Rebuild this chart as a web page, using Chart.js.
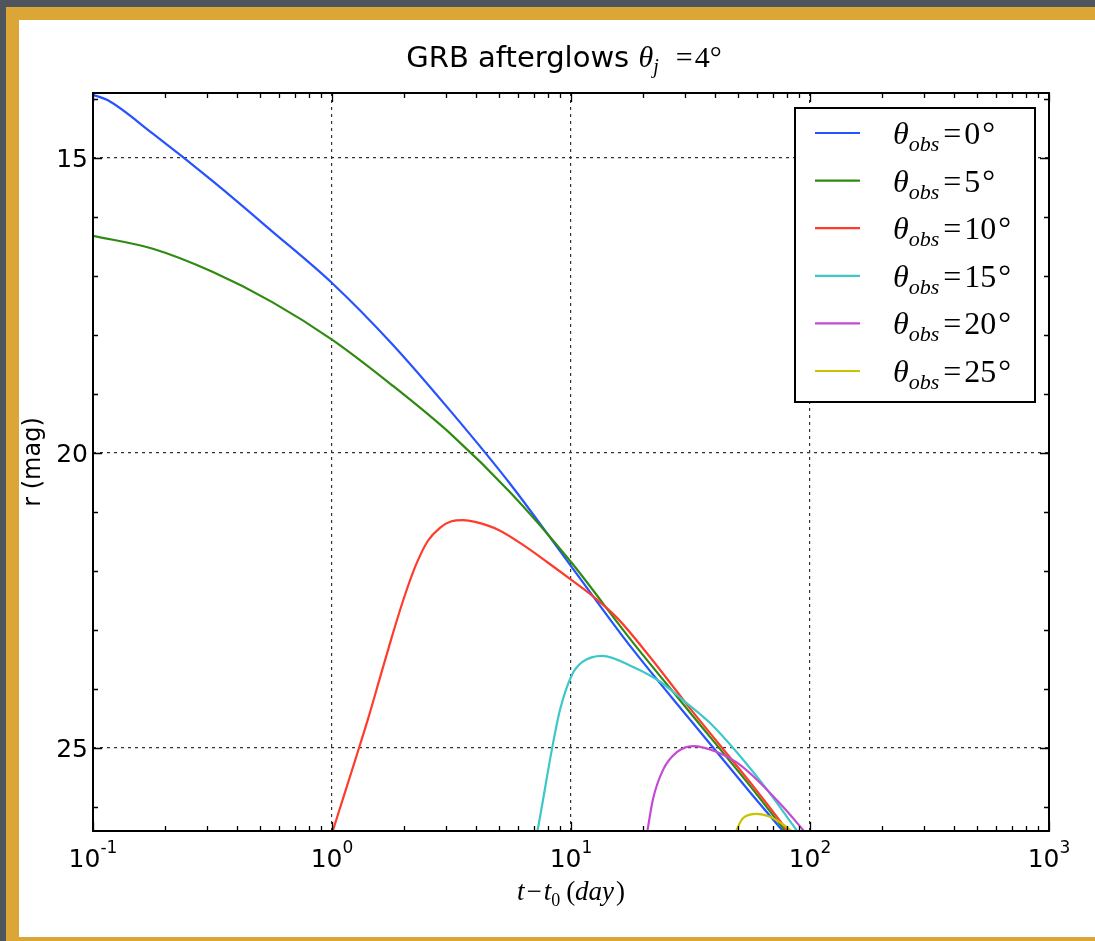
<!DOCTYPE html>
<html>
<head>
<meta charset="utf-8">
<script src="https://cdn.jsdelivr.net/npm/chart.js@4.4.1/dist/chart.umd.min.js"></script>
<style>
  body { margin: 0; width: 1095px; height: 941px; overflow: hidden; background: #4f555c; }
  #gold { position: absolute; left: 6px; top: 7px; width: 1089px; height: 934px; background: #dba635; }
  #paper { position: absolute; left: 19px; top: 20px; width: 1076px; height: 917px; background: #fff; }
  canvas { display: block; }
</style>
</head>
<body>
<div id="gold"></div>
<div id="paper"><canvas id="myChart" width="1076" height="917"></canvas></div>
<script>
// observer angles (deg), jet angle 4 deg
const obsAngles = [0, 5, 10, 15, 20, 25]
const colors = ['#2652ff', '#2f8a10', '#ff3b2b', '#3cc8c8', '#c44ad6', '#c8c400']

// t - t0 (day) and r (mag) for each curve
const t0 = [0.1, 0.115, 0.178, 0.316, 0.56, 1, 1.78, 3.16, 5.6, 10, 17.8, 31.6, 56, 80]
const r0 = [13.93, 14.02, 14.59, 15.39, 16.24, 17.12, 18.15, 19.31, 20.54, 21.92, 23.29, 24.53, 25.75, 26.49]

const t5 = [0.1, 0.178, 0.316, 0.56, 1, 1.78, 3.16, 5.6, 10, 17.8, 31.6, 56, 82]
const r5 = [16.32, 16.54, 16.93, 17.44, 18.08, 18.85, 19.69, 20.68, 21.85, 23.17, 24.41, 25.64, 26.5]

const t10 = [1.0, 1.122, 1.259, 1.415, 1.588, 1.78, 2.0, 2.245, 2.52, 2.83, 3.16, 3.53, 3.97, 5.0, 6.3, 7.94, 10, 12.6, 15.7, 21.4, 31.6, 56, 84]
const r10 = [26.45, 25.81, 25.17, 24.51, 23.81, 23.12, 22.46, 21.9, 21.49, 21.27, 21.16, 21.14, 21.17, 21.31, 21.56, 21.85, 22.15, 22.46, 22.81, 23.46, 24.34, 25.58, 26.5]

const t15 = [7.21, 7.64, 8.17, 8.99, 10.1, 11.2, 13.5, 18.2, 23.6, 29.4, 38.2, 49.5, 66.1, 89.1]
const r15 = [26.45, 25.88, 25.2, 24.36, 23.76, 23.54, 23.44, 23.63, 23.88, 24.19, 24.58, 25.08, 25.71, 26.43]

const t20 = [20.8, 22.0, 24.3, 27.8, 32.4, 40.8, 49.5, 60.0, 77.1, 95.3]
const r20 = [26.45, 25.88, 25.37, 25.07, 24.97, 25.07, 25.25, 25.54, 26.0, 26.43]

const t25 = [48.5, 52.5, 60.0, 68.0, 77.1, 84.9]
const r25 = [26.45, 26.19, 26.12, 26.17, 26.3, 26.43]

const times = [t0, t5, t10, t15, t20, t25]
const mags = [r0, r5, r10, r15, r20, r25]

// axes
const xMin = 0.1, xMax = 1000
const yMin = 13.9, yMax = 26.41
const xExps = [-1, 0, 1, 2, 3]
const yTicks = [14, 15, 16, 17, 18, 19, 20, 21, 22, 23, 24, 25, 26]
const yMajor = [15, 20, 25]

let xTicks = []
for (let d = -1; d < 3; d++) {
  for (let k = 1; k < 10; k++) xTicks.push(k * Math.pow(10, d))
}
xTicks.push(1000)

const isPow10 = v => Math.abs(Math.log10(v) - Math.round(Math.log10(v))) < 1e-6

const sans = '"DejaVu Sans"'
const serif = '"Liberation Serif"'

// draw a row of text pieces (for sub/superscripts)
const richWidth = (ctx, parts) => {
  let w = 0
  parts.forEach(p => { ctx.font = p.font; w += ctx.measureText(p.text).width + (p.gap || 0) })
  return w
}
const drawRich = (ctx, parts, x, y, align) => {
  let w = richWidth(ctx, parts)
  let cx = align === 'center' ? x - w / 2 : (align === 'right' ? x - w : x)
  parts.forEach(p => {
    ctx.font = p.font
    ctx.fillText(p.text, cx, y + (p.dy || 0))
    cx += ctx.measureText(p.text).width + (p.gap || 0)
  })
}

const decorations = {
  id: 'decorations',
  afterDatasetsDraw(chart) {
    const {ctx, chartArea: a, scales: {x, y}} = chart
    ctx.save()
    ctx.strokeStyle = '#000'
    ctx.lineWidth = 1.3
    ctx.beginPath()
    x.ticks.forEach(t => {
      const px = Math.round(x.getPixelForValue(t.value)) + 0.5
      const len = isPow10(t.value) ? 9 : 5
      ctx.moveTo(px, a.bottom); ctx.lineTo(px, a.bottom - len)
      ctx.moveTo(px, a.top); ctx.lineTo(px, a.top + len)
    })
    y.ticks.forEach(t => {
      const py = Math.round(y.getPixelForValue(t.value)) + 0.5
      const len = yMajor.includes(t.value) ? 9 : 5
      ctx.moveTo(a.left, py); ctx.lineTo(a.left + len, py)
      ctx.moveTo(a.right, py); ctx.lineTo(a.right - len, py)
    })
    ctx.stroke()

    ctx.lineWidth = 2
    ctx.strokeRect(a.left, a.top, a.right - a.left, a.bottom - a.top)

    // tick labels
    ctx.fillStyle = '#000'
    ctx.textBaseline = 'alphabetic'
    yMajor.forEach(v => {
      ctx.font = '25px ' + sans
      ctx.textAlign = 'right'
      ctx.fillText(String(v), a.left - 5, y.getPixelForValue(v) + 9)
    })
    ctx.textAlign = 'left'
    xExps.forEach(e => {
      const parts = [
        {text: '10', font: '25px ' + sans},
        {text: e < 0 ? '-' + (-e) : String(e), font: '17px ' + sans, dy: -14}
      ]
      drawRich(ctx, parts, x.getPixelForValue(Math.pow(10, e)), a.bottom + 36, 'center')
    })

    // title
    drawRich(ctx, [
      {text: 'GRB afterglows ', font: '29px ' + sans},
      {text: 'θ', font: 'italic 30px ' + serif},
      {text: 'j', font: 'italic 20px ' + serif, dy: 6, gap: 17},
      {text: '=', font: '30px ' + serif, gap: 2},
      {text: '4°', font: '30px ' + serif}
    ], (a.left + a.right) / 2 - 7, 47, 'center')

    // axis titles
    drawRich(ctx, [
      {text: 't', font: 'italic 27px ' + serif, gap: 2},
      {text: '−', font: '27px ' + serif, gap: 2},
      {text: 't', font: 'italic 27px ' + serif},
      {text: '0', font: '18px ' + serif, dy: 6, gap: 6},
      {text: '(', font: '27px ' + serif},
      {text: 'day', font: 'italic 27px ' + serif, gap: 2},
      {text: ')', font: '27px ' + serif}
    ], (a.left + a.right) / 2, 880, 'center')

    ctx.save()
    ctx.translate(21, (a.top + a.bottom) / 2)
    ctx.rotate(-Math.PI / 2)
    ctx.font = '24px ' + sans
    ctx.textAlign = 'center'
    ctx.fillText('r (mag)', 0, 0)
    ctx.restore()

    // legend
    const lx = 776, ly = 88, lw = 240, lh = 294
    ctx.fillStyle = '#fff'
    ctx.fillRect(lx, ly, lw, lh)
    ctx.lineWidth = 2
    ctx.strokeRect(lx, ly, lw, lh)
    chart.data.datasets.forEach((ds, i) => {
      const cy = ly + 25 + i * 47.6
      ctx.strokeStyle = ds.borderColor
      ctx.lineWidth = 2.2
      ctx.beginPath(); ctx.moveTo(lx + 20, cy); ctx.lineTo(lx + 65, cy); ctx.stroke()
      ctx.fillStyle = '#000'
      drawRich(ctx, [
        {text: 'θ', font: 'italic 32px ' + serif},
        {text: 'obs', font: 'italic 22px ' + serif, dy: 7, gap: 4},
        {text: '=', font: '32px ' + serif, gap: 3},
        {text: String(obsAngles[i]), font: '32px ' + serif, gap: 2},
        {text: '°', font: '32px ' + serif}
      ], lx + 98, cy + 11, 'left')
    })
    ctx.restore()
  }
}

const datasets = obsAngles.map((ang, i) => ({
  label: 'θobs=' + ang + '°',
  data: times[i].map((t, j) => ({x: t, y: mags[i][j]})),
  borderColor: colors[i],
  backgroundColor: colors[i],
  borderWidth: 2.2,
  pointRadius: 0,
  fill: false,
  cubicInterpolationMode: 'monotone',
  order: obsAngles.length - i
}))

const gridColor = major => major ? '#333' : 'rgba(0,0,0,0)'

new Chart(document.getElementById('myChart'), {
  type: 'line',
  data: {datasets: datasets},
  options: {
    responsive: false,
    animation: false,
    devicePixelRatio: 1,
    layout: {padding: {left: 74, top: 73, right: 46, bottom: 106}, autoPadding: false},
    plugins: {legend: {display: false}, tooltip: {enabled: false}, title: {display: false}},
    scales: {
      x: {
        type: 'logarithmic', min: xMin, max: xMax,
        afterBuildTicks: s => { s.ticks = xTicks.map(v => ({value: v})) },
        afterFit: s => { s.height = 0 },
        ticks: {display: false},
        grid: {drawTicks: false, lineWidth: 1.2, color: c => gridColor(c.tick && isPow10(c.tick.value))},
        border: {display: false, dash: [3, 4]}
      },
      y: {
        type: 'linear', reverse: true, min: yMin, max: yMax,
        afterBuildTicks: s => { s.ticks = yTicks.map(v => ({value: v})) },
        afterFit: s => { s.width = 0 },
        ticks: {display: false},
        grid: {drawTicks: false, lineWidth: 1.2, color: c => gridColor(c.tick && yMajor.includes(c.tick.value))},
        border: {display: false, dash: [3, 4]}
      }
    }
  },
  plugins: [decorations]
})
</script>
</body>
</html>
